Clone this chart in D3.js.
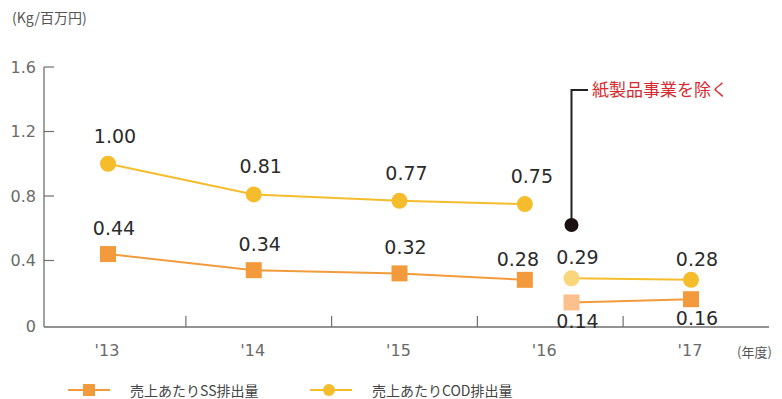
<!DOCTYPE html>
<html>
<head>
<meta charset="utf-8">
<script src="https://cdn.jsdelivr.net/npm/d3@7"></script>
<style>
  body { margin: 0; background: #fff; }
  svg { font-family: "DejaVu Sans", Verdana, sans-serif; }
  .jp { font-family: "Noto Sans CJK JP", sans-serif; }
</style>
</head>
<body>
<div id="chart"></div>
<script>
// data
const years = ["'13", "'14", "'15", "'16", "'17"];
const yTicks = [0, 0.4, 0.8, 1.2, 1.6];
const codValues = [1.00, 0.81, 0.77, 0.75];
const ssValues = [0.44, 0.34, 0.32, 0.28];
// '16 and '17 excluding the paper products business
const codExclValues = [0.29, 0.28];
const ssExclValues = [0.14, 0.16];
const seriesNames = ["売上あたりSS排出量", "売上あたりCOD排出量"];
const noteText = "紙製品事業を除く";

const width = 782, height = 399;

const svg = d3.select("#chart")
    .append("svg")
    .attr("width", width)
    .attr("height", height);

const x = d3.scaleLinear().domain([0, 4]).range([108, 691]);
const y = d3.scaleLinear().domain([0, 1.6]).range([325, 67]);

// the '16 value sits a bit left of its label, the split one a bit right
const mainIdx = d => (d === 3 ? 2.86 : d);
const exclIdx = d => (d === 0 ? 3.18 : 4);

const codColor = "#f5bd2c", ssColor = "#f39b3c";
const codLight = "#f9d67c", ssLight = "#fbc08c";

// axes
const axisColor = "#6f6f6f";
svg.append("line").attr("x1", 44).attr("x2", 44).attr("y1", y(1.6)).attr("y2", 327)
    .attr("stroke", axisColor).attr("stroke-width", 1.3);
svg.append("line").attr("x1", 44).attr("x2", 769).attr("y1", 327).attr("y2", 327)
    .attr("stroke", axisColor).attr("stroke-width", 1.3);

yTicks.forEach(function (t) {
    if (t > 0) {
        svg.append("line").attr("x1", 44).attr("x2", 54).attr("y1", y(t)).attr("y2", y(t))
            .attr("stroke", axisColor).attr("stroke-width", 1.2);
    }
    svg.append("text")
        .attr("x", 36).attr("y", t === 0 ? y(t) + 1 : y(t))
        .attr("text-anchor", "end").attr("dominant-baseline", "central")
        .attr("font-size", 16).attr("fill", "#6a6a6a")
        .text(t === 0 ? "0" : d3.format(".1f")(t));
});

years.forEach(function (d, i) {
    svg.append("text")
        .attr("x", x(i) - 1).attr("y", 356)
        .attr("text-anchor", "middle")
        .attr("font-size", 16).attr("fill", "#6a6a6a")
        .text(d);
    if (i < years.length - 1) {
        svg.append("line").attr("x1", x(i + 0.5) + 5).attr("x2", x(i + 0.5) + 5)
            .attr("y1", 316).attr("y2", 327)
            .attr("stroke", axisColor).attr("stroke-width", 1.2);
    }
});

svg.append("text").attr("class", "jp")
    .attr("x", 737).attr("y", 357)
    .attr("font-size", 13).attr("fill", "#555")
    .text("(年度)");

svg.append("text").attr("class", "jp")
    .attr("x", 12).attr("y", 23)
    .attr("font-size", 14).attr("fill", "#555")
    .text("(Kg/百万円)");

// lines
const line = d3.line();
const codPts = codValues.map((v, i) => [x(mainIdx(i)), y(v)]);
const ssPts = ssValues.map((v, i) => [x(mainIdx(i)), y(v)]);
const codExclPts = codExclValues.map((v, i) => [x(exclIdx(i)), y(v)]);
const ssExclPts = ssExclValues.map((v, i) => [x(exclIdx(i)), y(v)]);

svg.append("path").attr("d", line(codPts)).attr("fill", "none").attr("stroke", codColor).attr("stroke-width", 2);
svg.append("path").attr("d", line(ssPts)).attr("fill", "none").attr("stroke", ssColor).attr("stroke-width", 2);
svg.append("path").attr("d", line(codExclPts)).attr("fill", "none").attr("stroke", codColor).attr("stroke-width", 2);
svg.append("path").attr("d", line(ssExclPts)).attr("fill", "none").attr("stroke", ssColor).attr("stroke-width", 2);

// markers
const sq = 16;
svg.selectAll("rect.ss").data(ssPts).enter().append("rect")
    .attr("x", d => d[0] - sq / 2).attr("y", d => d[1] - sq / 2)
    .attr("width", sq).attr("height", sq).attr("fill", ssColor);
svg.selectAll("rect.ssx").data(ssExclPts).enter().append("rect")
    .attr("x", d => d[0] - sq / 2).attr("y", d => d[1] - sq / 2)
    .attr("width", sq).attr("height", sq)
    .attr("fill", (d, i) => i === 0 ? ssLight : ssColor);
svg.selectAll("circle.cod").data(codPts).enter().append("circle")
    .attr("cx", d => d[0]).attr("cy", d => d[1]).attr("r", 8).attr("fill", codColor);
svg.selectAll("circle.codx").data(codExclPts).enter().append("circle")
    .attr("cx", d => d[0]).attr("cy", d => d[1]).attr("r", 8)
    .attr("fill", (d, i) => i === 0 ? codLight : codColor);

// value labels
const labelStyle = function (sel) {
    sel.attr("text-anchor", "middle").attr("font-size", 19).attr("fill", "#2b2b2b");
};
codValues.forEach(function (v, i) {
    svg.append("text").call(labelStyle)
        .attr("x", codPts[i][0] + 7).attr("y", codPts[i][1] - 21)
        .text(d3.format(".2f")(v));
});
ssValues.forEach(function (v, i) {
    svg.append("text").call(labelStyle)
        .attr("x", ssPts[i][0] + (i === 3 ? -7 : 6)).attr("y", ssPts[i][1] - (i === 3 ? 14 : 19))
        .text(d3.format(".2f")(v));
});
codExclValues.forEach(function (v, i) {
    svg.append("text").call(labelStyle)
        .attr("x", codExclPts[i][0] + 6).attr("y", codExclPts[i][1] - 14)
        .text(d3.format(".2f")(v));
});
ssExclValues.forEach(function (v, i) {
    svg.append("text").call(labelStyle)
        .attr("x", ssExclPts[i][0] + 6).attr("y", ssExclPts[i][1] + 26)
        .text(d3.format(".2f")(v));
});

// note callout
const noteX = x(exclIdx(0)), noteY = y(0.62);
svg.append("path")
    .attr("d", `M${noteX},${noteY} V90 H588`)
    .attr("fill", "none").attr("stroke", "#222").attr("stroke-width", 2);
svg.append("circle").attr("cx", noteX).attr("cy", noteY).attr("r", 7).attr("fill", "#1c1214");
svg.append("text").attr("class", "jp")
    .attr("x", 592).attr("y", 96)
    .attr("font-size", 17).attr("fill", "#d8282e")
    .text(noteText);

// legend
const legendY = 390;
const lg = [
    {x: 68, color: ssColor, shape: "rect"},
    {x: 310, color: codColor, shape: "circle"}
];
lg.forEach(function (d, i) {
    svg.append("line").attr("x1", d.x).attr("x2", d.x + 42).attr("y1", legendY).attr("y2", legendY)
        .attr("stroke", d.color).attr("stroke-width", 2);
    if (d.shape === "rect") {
        svg.append("rect").attr("x", d.x + 15).attr("y", legendY - 6).attr("width", 12).attr("height", 12).attr("fill", d.color);
    } else {
        svg.append("circle").attr("cx", d.x + 19).attr("cy", legendY).attr("r", 6).attr("fill", d.color);
    }
    svg.append("text").attr("class", "jp")
        .attr("x", d.x + 62).attr("y", legendY)
        .attr("dominant-baseline", "central")
        .attr("font-size", 14).attr("fill", "#444")
        .text(seriesNames[i]);
});
</script>
</body>
</html>
